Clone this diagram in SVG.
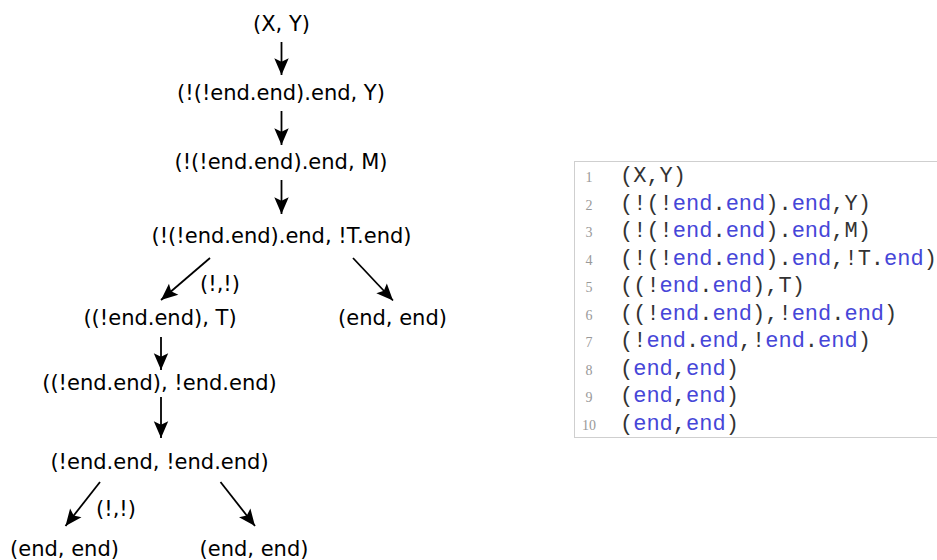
<svg xmlns="http://www.w3.org/2000/svg" width="937" height="560" viewBox="0 0 937 560">
<style>
.n{font-family:"DejaVu Sans","Verdana",sans-serif;font-size:21px;fill:#000;text-anchor:middle}
.e{stroke:#000;stroke-width:1.8;fill:none;marker-end:url(#ah)}
.ln{font-family:"Liberation Serif",serif;font-size:14px;fill:#999;text-anchor:middle}
.c{font-family:"Liberation Mono","Courier New",monospace;font-size:22px;fill:#333;white-space:pre}
.k{fill:#4646d8}
</style>
<defs>
<marker id="ah" markerUnits="userSpaceOnUse" markerWidth="20" markerHeight="20" viewBox="-16 -8 18 16" refX="0" refY="0" orient="auto">
<path d="M0,0 L-15,-6.5 L-12,0 L-15,6.5 Z" fill="#000"/>
</marker>
</defs>
<rect width="937" height="560" fill="#fff"/>
<g id="connectors">
<line class="e" x1="281.5" y1="42" x2="281.5" y2="75"/>
<line class="e" x1="281.5" y1="111" x2="281.5" y2="145"/>
<line class="e" x1="281.5" y1="180" x2="281.5" y2="214"/>
<line class="e" x1="210" y1="258" x2="161" y2="300"/>
<line class="e" x1="353" y1="258" x2="393" y2="300.5"/>
<line class="e" x1="161" y1="337" x2="161" y2="370"/>
<line class="e" x1="161" y1="397" x2="161" y2="438"/>
<line class="e" x1="100" y1="482" x2="65.5" y2="526"/>
<line class="e" x1="220.5" y1="482" x2="255" y2="526"/>
<text class="n" x="220" y="291">(!,!)</text>
<text class="n" x="116" y="516">(!,!)</text>
</g>
<g id="n1"><text class="n" x="281.5" y="31">(X, Y)</text></g>
<g id="n2"><text class="n" x="281" y="100">(!(!end.end).end, Y)</text></g>
<g id="n3"><text class="n" x="281" y="169">(!(!end.end).end, M)</text></g>
<g id="n4"><text class="n" x="281.5" y="243">(!(!end.end).end, !T.end)</text></g>
<g id="n5"><text class="n" x="160" y="325">((!end.end), T)</text></g>
<g id="n6"><text class="n" x="392.5" y="325">(end, end)</text></g>
<g id="n7"><text class="n" x="159.5" y="390">((!end.end), !end.end)</text></g>
<g id="n8"><text class="n" x="159.5" y="469">(!end.end, !end.end)</text></g>
<g id="n9"><text class="n" x="64.5" y="556">(end, end)</text></g>
<g id="n10"><text class="n" x="254" y="556">(end, end)</text></g>
<g id="code">
<rect x="574.5" y="161.5" width="420" height="276" fill="#fff" stroke="#cfcfcf" stroke-width="1"/>
<text class="ln" x="589" y="182">1</text>
<text class="ln" x="589" y="209.5">2</text>
<text class="ln" x="589" y="237">3</text>
<text class="ln" x="589" y="264.5">4</text>
<text class="ln" x="589" y="292">5</text>
<text class="ln" x="589" y="319.5">6</text>
<text class="ln" x="589" y="347">7</text>
<text class="ln" x="589" y="374.5">8</text>
<text class="ln" x="589" y="402">9</text>
<text class="ln" x="589" y="429.5">10</text>
<text class="c" x="620" y="182">(X,Y)</text>
<text class="c" x="620" y="209.5">(!(!<tspan class="k">end</tspan>.<tspan class="k">end</tspan>).<tspan class="k">end</tspan>,Y)</text>
<text class="c" x="620" y="237">(!(!<tspan class="k">end</tspan>.<tspan class="k">end</tspan>).<tspan class="k">end</tspan>,M)</text>
<text class="c" x="620" y="264.5">(!(!<tspan class="k">end</tspan>.<tspan class="k">end</tspan>).<tspan class="k">end</tspan>,!T.<tspan class="k">end</tspan>)</text>
<text class="c" x="620" y="292">((!<tspan class="k">end</tspan>.<tspan class="k">end</tspan>),T)</text>
<text class="c" x="620" y="319.5">((!<tspan class="k">end</tspan>.<tspan class="k">end</tspan>),!<tspan class="k">end</tspan>.<tspan class="k">end</tspan>)</text>
<text class="c" x="620" y="347">(!<tspan class="k">end</tspan>.<tspan class="k">end</tspan>,!<tspan class="k">end</tspan>.<tspan class="k">end</tspan>)</text>
<text class="c" x="620" y="374.5">(<tspan class="k">end</tspan>,<tspan class="k">end</tspan>)</text>
<text class="c" x="620" y="402">(<tspan class="k">end</tspan>,<tspan class="k">end</tspan>)</text>
<text class="c" x="620" y="429.5">(<tspan class="k">end</tspan>,<tspan class="k">end</tspan>)</text>
</g>
</svg>
